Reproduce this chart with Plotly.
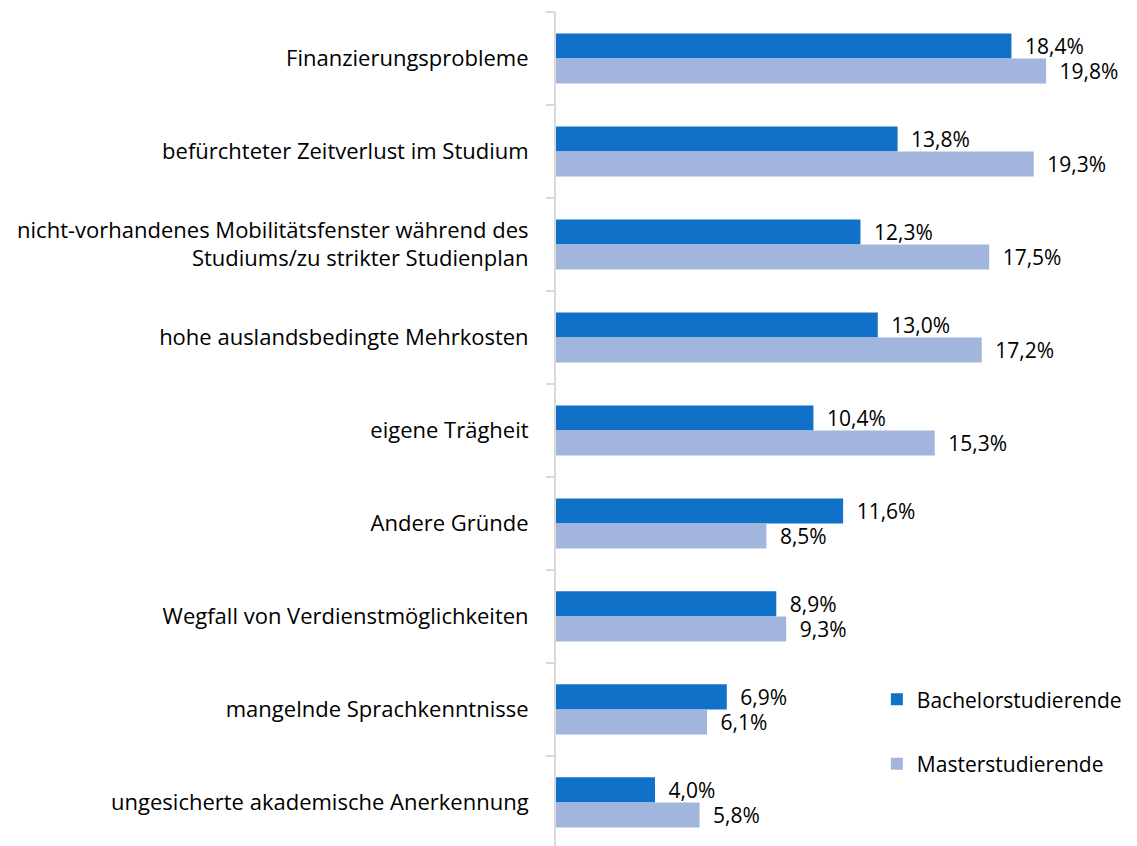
import plotly.graph_objects as go

categories = [
    "Finanzierungsprobleme",
    "befürchteter Zeitverlust im Studium",
    "nicht-vorhandenes Mobilitätsfenster während des<br>Studiums/zu strikter Studienplan",
    "hohe auslandsbedingte Mehrkosten",
    "eigene Trägheit",
    "Andere Gründe",
    "Wegfall von Verdienstmöglichkeiten",
    "mangelnde Sprachkenntnisse",
    "ungesicherte akademische Anerkennung",
]
bachelor = [18.4, 13.8, 12.3, 13.0, 10.4, 11.6, 8.9, 6.9, 4.0]
master = [19.8, 19.3, 17.5, 17.2, 15.3, 8.5, 9.3, 6.1, 5.8]
series_names = ["Bachelorstudierende", "Masterstudierende"]
colors = ["#1170C8", "#A2B5DD"]

FONT = "Open Sans"


def fmt(vals):
    return ["\u2002" + f"{v:.1f}".replace(".", ",") + "%" for v in vals]


fig = go.Figure()
for name, vals, col in zip(series_names, [bachelor, master], colors):
    fig.add_trace(go.Bar(
        y=categories, x=vals, orientation="h", name=name,
        marker=dict(color=col, line=dict(width=0)),
        text=fmt(vals), textposition="outside", cliponaxis=False,
        constraintext="none",
        textfont=dict(family=FONT, size=21, color="#000000"),
        legendgroup=name,
    ))

fig.update_layout(
    width=1129, height=838,
    margin=dict(l=548, r=7, t=4, b=0),
    barmode="group", bargap=0.46, bargroupgap=0,
    plot_bgcolor="white", paper_bgcolor="white",
    font=dict(family=FONT, size=21, color="#000000"),
    showlegend=True,
    legend=dict(x=0.559, y=0.2, xanchor="left", yanchor="top",
                traceorder="grouped", tracegroupgap=34,
                font=dict(family=FONT, size=21, color="#000000"),
                bgcolor="rgba(0,0,0,0)"),
    xaxis=dict(range=[0, 23.19], visible=False, showgrid=False, zeroline=False),
    yaxis=dict(
        type="category",
        range=[8.468, -0.5],
        showline=True, linecolor="#d9d9d9", linewidth=2,
        ticks="outside", tickson="boundaries", ticklen=8,
        tickcolor="#d9d9d9", tickwidth=2,
        ticklabelstandoff=21,
        showgrid=False, zeroline=False,
        tickfont=dict(family=FONT, size=22, color="#000000"),
    ),
)

fig.write_html("out.html")
